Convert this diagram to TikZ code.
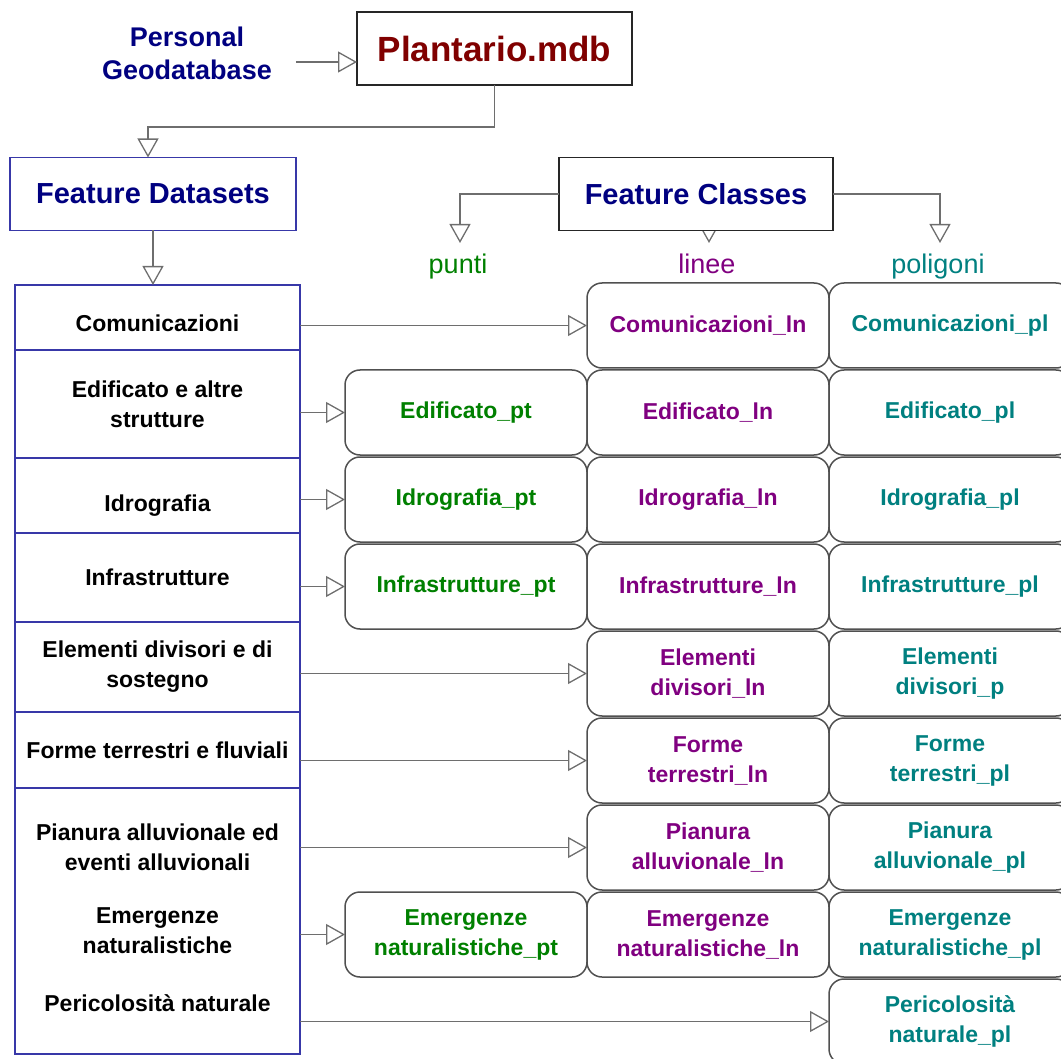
\documentclass[tikz,border=0pt]{standalone}
\usepackage{fontspec}
\setmainfont{Liberation Sans}
\usepackage{xcolor}
\usetikzlibrary{arrows.meta, positioning, calc, backgrounds}
\definecolor{navytxt}{HTML}{000080}
\definecolor{mdbred}{HTML}{800000}
\definecolor{ptgreen}{HTML}{008000}
\definecolor{lnpurple}{HTML}{800080}
\definecolor{plteal}{HTML}{008080}
\definecolor{dsblue}{HTML}{3838A8}
\definecolor{linkgray}{HTML}{6E6E6E}
\definecolor{cellgray}{HTML}{505050}
\tikzset{
    headbox/.style = {draw=black!85, line width=1.6pt, fill=white, minimum height=73pt,
        inner sep=0pt, outer sep=0pt, text=navytxt, font=\fontsize{29}{34}\selectfont\bfseries},
    listcell/.style = {draw=dsblue, line width=1.6pt, minimum width=285pt, inner sep=0pt,
        outer sep=0pt, align=center, font=\fontsize{23}{30}\selectfont\bfseries},
    listtext/.style = {align=center, inner sep=0pt, font=\fontsize{23}{30}\selectfont\bfseries},
    fcbox/.style = {draw=cellgray, line width=1.5pt, rounded corners=15pt, fill=white,
        minimum width=242pt, minimum height=85pt, inner sep=0pt, outer sep=0pt,
        align=center, font=\fontsize{23}{30}\selectfont\bfseries},
    ptbox/.style = {fcbox, text=ptgreen},
    lnbox/.style = {fcbox, text=lnpurple},
    plbox/.style = {fcbox, text=plteal},
    geomlabel/.style = {anchor=base, inner sep=0pt, font=\fontsize{27}{32}\selectfont},
    link/.style = {draw=linkgray, line width=1.3pt, -{Triangle[open, length=19pt, width=21pt]}},
}
\begin{document}
\begin{tikzpicture}[x=1pt, y=-1pt]
\useasboundingbox (0,0) rectangle (1061,1059);
\clip (0,0) rectangle (1061,1059);

\node[font=\fontsize{27}{33}\selectfont\bfseries, text=navytxt, align=center, inner xsep=24pt]
    (PG) at (187,53) {Personal\\Geodatabase};
\node[headbox, minimum width=275pt, text=mdbred, font=\fontsize{35}{40}\selectfont\bfseries]
    (P) at (494.5,48.5) {Plantario.mdb};
\coordinate (pgOut) at ([yshift=-9pt]PG.east);
\draw[link] (pgOut) -- (pgOut -| P.west);

\node[headbox, draw=dsblue, minimum width=286pt] (FD) at (153,194) {Feature Datasets};
\coordinate (bend) at (148,127);
\draw[link] (P.south) |- (bend) -- (bend |- FD.north);

\node[headbox, minimum width=274pt] (FC) at (696,194) {Feature Classes};
\node[geomlabel, text=ptgreen] (punti) at (458,274) {punti};
\node[geomlabel, text=lnpurple] (linee) at (707,274) {linee};
\node[geomlabel, text=plteal] (poligoni) at (938,274) {poligoni};
\coordinate (tipPt) at (460,243);
\coordinate (tipLn) at (709,243);
\coordinate (tipPl) at (940,243);
\draw[link] (FC.west) -| (tipPt);
\draw[link] (FC.east) -| (tipPl);
\begin{pgfonlayer}{background}
\draw[link] (tipLn |- FC.south) -- (tipLn);
\end{pgfonlayer}

\node[listcell, minimum height=65pt, text height=28pt, text depth=0pt] (L1) at (157.5,317.5) {Comunicazioni};
\node[listcell, minimum height=108pt, below=0pt of L1] (L2) {Edificato e altre\\strutture};
\node[listcell, minimum height=75pt, text height=32pt, text depth=0pt, below=0pt of L2] (L3) {Idrografia};
\node[listcell, minimum height=89pt, below=0pt of L3] (L4) {Infrastrutture};
\node[listcell, minimum height=90pt, below=0pt of L4] (L5) {Elementi divisori e di\\sostegno};
\node[listcell, minimum height=76pt, below=0pt of L5] (L6) {Forme terrestri e fluviali};
\node[listcell, minimum height=266pt, below=0pt of L6] (L7) {};
\node[listtext] (L7a) at (157.5,847) {Pianura alluvionale ed\\eventi alluvionali};
\node[listtext] (L7b) at (157.5,931) {Emergenze\\naturalistiche};
\node[listtext] (L7c) at (157.5,1003) {Pericolosità naturale};
\draw[link] (FD.south) -- (FD.south |- L1.north);

\node[lnbox] (Ln1) at (708,325.5) {Comunicazioni\_ln};
\node[plbox] (Pl1) at (950,325.5) {Comunicazioni\_pl};

\node[ptbox] (Pt2) at (466,412.5) {Edificato\_pt};
\node[lnbox] (Ln2) at (708,412.5) {Edificato\_ln};
\node[plbox] (Pl2) at (950,412.5) {Edificato\_pl};

\node[ptbox] (Pt3) at (466,499.5) {Idrografia\_pt};
\node[lnbox] (Ln3) at (708,499.5) {Idrografia\_ln};
\node[plbox] (Pl3) at (950,499.5) {Idrografia\_pl};

\node[ptbox] (Pt4) at (466,586.5) {Infrastrutture\_pt};
\node[lnbox] (Ln4) at (708,586.5) {Infrastrutture\_ln};
\node[plbox] (Pl4) at (950,586.5) {Infrastrutture\_pl};

\node[lnbox] (Ln5) at (708,673.5) {Elementi\\divisori\_ln};
\node[plbox] (Pl5) at (950,673.5) {Elementi\\divisori\_p};

\node[lnbox] (Ln6) at (708,760.5) {Forme\\terrestri\_ln};
\node[plbox] (Pl6) at (950,760.5) {Forme\\terrestri\_pl};

\node[lnbox] (Ln7) at (708,847.5) {Pianura\\alluvionale\_ln};
\node[plbox] (Pl7) at (950,847.5) {Pianura\\alluvionale\_pl};

\node[ptbox] (Pt8) at (466,934.5) {Emergenze\\naturalistiche\_pt};
\node[lnbox] (Ln8) at (708,934.5) {Emergenze\\naturalistiche\_ln};
\node[plbox] (Pl8) at (950,934.5) {Emergenze\\naturalistiche\_pl};

\node[plbox] (Pl9) at (950,1021.5) {Pericolosità\\naturale\_pl};

\draw[link] (L1.east |- Ln1.west) -- (Ln1.west);
\draw[link] (L2.east |- Pt2.west) -- (Pt2.west);
\draw[link] (L3.east |- Pt3.west) -- (Pt3.west);
\draw[link] (L4.east |- Pt4.west) -- (Pt4.west);
\draw[link] (L5.east |- Ln5.west) -- (Ln5.west);
\draw[link] (L6.east |- Ln6.west) -- (Ln6.west);
\draw[link] (L7.east |- Ln7.west) -- (Ln7.west);
\draw[link] (L7.east |- Pt8.west) -- (Pt8.west);
\draw[link] (L7.east |- Pl9.west) -- (Pl9.west);
\end{tikzpicture}
\end{document}
